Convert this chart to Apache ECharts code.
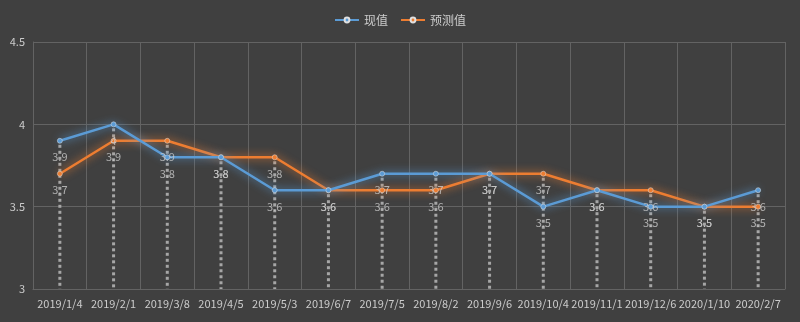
<!DOCTYPE html>
<html>
<head>
<meta charset="utf-8">
<script src="https://cdn.jsdelivr.net/npm/echarts@6/dist/echarts.min.js"></script>
<style>
  html, body { margin: 0; padding: 0; background: #404040; }
  #chart { width: 800px; height: 322px; }
</style>
</head>
<body>
<div id="chart"></div>
<script>
// Monthly dates on the category axis
var categories = ['2019/1/4', '2019/2/1', '2019/3/8', '2019/4/5', '2019/5/3', '2019/6/7', '2019/7/5',
  '2019/8/2', '2019/9/6', '2019/10/4', '2019/11/1', '2019/12/6', '2020/1/10', '2020/2/7'];
// Actual values
var actualValues = [3.9, 4.0, 3.8, 3.8, 3.6, 3.6, 3.7, 3.7, 3.7, 3.5, 3.6, 3.5, 3.5, 3.6];
// Forecast values
var forecastValues = [3.7, 3.9, 3.9, 3.8, 3.8, 3.6, 3.6, 3.6, 3.7, 3.7, 3.6, 3.6, 3.5, 3.5];
var yTicks = [3, 3.5, 4, 4.5];

var blue = '#5b9bd5';
var orange = '#ed7d31';
var textColor = '#cccccc';
var gridColor = '#636363';
var font = '"Noto Sans CJK SC", "Noto Sans", sans-serif';

var chart = echarts.init(document.getElementById('chart'));

function lineSeries(name, values, color, z) {
  return {
    name: name,
    type: 'line',
    data: values,
    z: z,
    symbol: 'circle',
    symbolSize: 5,
    lineStyle: { color: color, width: 2.5, shadowColor: color, shadowBlur: 9 },
    itemStyle: { color: color, borderColor: '#e0e0e0', borderWidth: 0.5 },
    label: { show: false }
  };
}

// Value labels under every point, drawn on top of both lines
function labelSeries(values, z) {
  return {
    type: 'scatter',
    data: values,
    z: z,
    silent: true,
    symbolSize: 2,
    itemStyle: { color: 'rgba(0,0,0,0)' },
    label: {
      show: true,
      position: 'bottom',
      distance: 10,
      color: textColor,
      fontSize: 11,
      fontFamily: font,
      formatter: function (p) { return String(p.value); }
    }
  };
}

// Drop lines: one dotted vertical per category, from the higher point down to the axis floor
var dropData = categories.map(function (c, i) {
  return [i, Math.max(actualValues[i], forecastValues[i])];
});

var option = {
  backgroundColor: '#404040',
  animation: false,
  textStyle: { fontFamily: font },
  legend: {
    top: 9,
    left: 'center',
    itemWidth: 24,
    itemHeight: 6,
    itemGap: 12,
    textStyle: { color: textColor, fontSize: 12, fontFamily: font },
    data: ['现值', '预测值']
  },
  grid: { left: 33, right: 15, top: 42, bottom: 33, containLabel: false, show: false },
  xAxis: {
    type: 'category',
    data: categories,
    boundaryGap: true,
    axisLine: { show: true, lineStyle: { color: gridColor } },
    axisTick: { show: false },
    axisLabel: { color: textColor, fontSize: 11, fontFamily: font, interval: 0, margin: 9 },
    splitLine: { show: true, lineStyle: { color: gridColor, width: 1 } }
  },
  yAxis: {
    type: 'value',
    min: yTicks[0],
    max: yTicks[yTicks.length - 1],
    interval: 0.5,
    axisLine: { show: true, lineStyle: { color: gridColor } },
    axisTick: { show: false },
    axisLabel: { color: textColor, fontSize: 11, fontFamily: font, margin: 8 },
    splitLine: { show: true, lineStyle: { color: gridColor, width: 1 } }
  },
  series: [
    {
      type: 'custom',
      silent: true,
      z: 2,
      data: dropData,
      renderItem: function (params, api) {
        var top = api.coord([api.value(0), api.value(1)]);
        var floor = api.coord([api.value(0), yTicks[0]]);
        return {
          type: 'line',
          shape: { x1: top[0], y1: top[1] + 4, x2: floor[0], y2: floor[1] },
          style: { stroke: '#a6a6a6', lineWidth: 3, lineDash: [3, 3] }
        };
      }
    },
    lineSeries('现值', actualValues, blue, 4),
    lineSeries('预测值', forecastValues, orange, 3),
    labelSeries(actualValues, 6),
    labelSeries(forecastValues, 6)
  ]
};

chart.setOption(option);
</script>
</body>
</html>
